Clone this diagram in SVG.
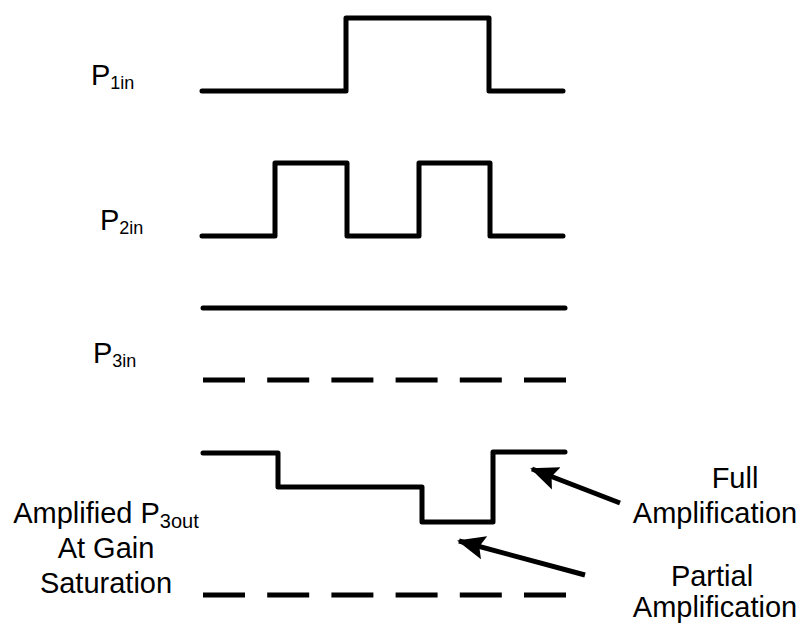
<svg xmlns="http://www.w3.org/2000/svg" width="807" height="625" viewBox="0 0 807 625">
<style>
.w{fill:none;stroke:#000;stroke-width:5;stroke-linejoin:round;stroke-linecap:round}
.d{fill:none;stroke:#000;stroke-width:5;stroke-dasharray:42 22.2}
.t{font-family:"Liberation Sans",Arial,sans-serif;font-size:29px;fill:#000}
.s{font-size:18px}
.a{fill:none;stroke:#000;stroke-width:5;marker-end:url(#ah)}
</style>
<defs>
<marker id="ah" markerUnits="userSpaceOnUse" markerWidth="30" markerHeight="26" refX="26" refY="13" orient="auto">
<polygon points="0,1 28,13 0,25 5,13" fill="#000"/>
</marker>
</defs>
<rect width="807" height="625" fill="#fff"/>
<g id="p1in">
<path class="w" d="M202,91 H346 V18 H489 V91 H563"/>
<text class="t" x="91" y="85">P<tspan class="s" dy="4">1in</tspan></text>
</g>
<g id="p2in">
<path class="w" d="M202,236 H275 V163 H347 V236 H419 V163 H490 V236 H563"/>
<text class="t" x="100" y="230">P<tspan class="s" dy="4">2in</tspan></text>
</g>
<g id="p3in">
<path class="w" d="M203,308 H565"/>
<path class="d" d="M203,380 H566"/>
<text class="t" x="93" y="363">P<tspan class="s" dy="4">3in</tspan></text>
</g>
<g id="p3out">
<path class="w" d="M203,453 H278 V487 H422 V522 H493 V452 H565"/>
<path class="d" d="M203,595 H566"/>
<text class="t" x="106" y="523" text-anchor="middle">Amplified P<tspan style="font-size:20px" dy="5">3out</tspan></text>
<text class="t" x="106" y="558" text-anchor="middle">At Gain</text>
<text class="t" x="106" y="593" text-anchor="middle">Saturation</text>
</g>
<g id="full">
<text class="t" x="735" y="488" text-anchor="middle">Full</text>
<text class="t" x="715" y="523" text-anchor="middle">Amplification</text>
</g>
<g id="partial">
<text class="t" x="712" y="586" text-anchor="middle">Partial</text>
<text class="t" x="715" y="617" text-anchor="middle">Amplification</text>
</g>
<g id="connectors">
<line class="a" x1="620" y1="503" x2="532" y2="469"/>
<line class="a" x1="585" y1="575" x2="459" y2="541"/>
</g>
</svg>
